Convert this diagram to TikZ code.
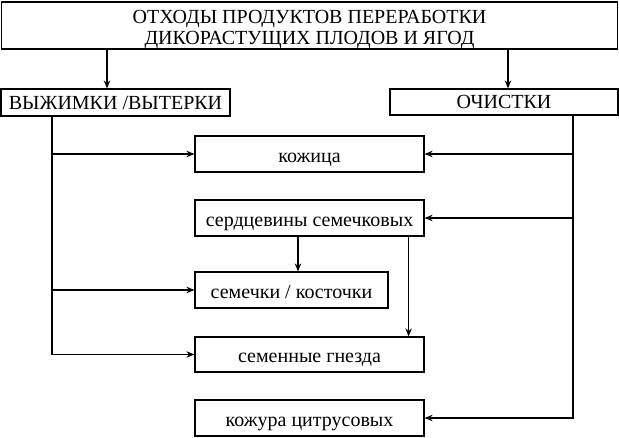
\documentclass[tikz,border=0pt]{standalone}
\usepackage{fontspec}
\setmainfont{Liberation Serif}
\usetikzlibrary{arrows.meta,positioning,calc}

\begin{document}
\begin{tikzpicture}[x=1pt,y=1pt,line width=1.2pt,
		box/.style={draw,inner sep=0pt,minimum height=36pt,text height=16pt,text depth=0pt,font=\fontsize{20}{20.5}\selectfont},
		capbox/.style={box,text height=13pt},
		arr/.style={-{Stealth[length=8pt,width=6.5pt]}}]
	\useasboundingbox (0,0) rectangle (619,-437);
	% верхний уровень
	\node[capbox,align=center,text height=37.6pt,text depth=0pt,minimum width=616pt,minimum height=47pt] (waste) at (309.5,-25.5) {ОТХОДЫ ПРОДУКТОВ ПЕРЕРАБОТКИ\\ДИКОРАСТУЩИХ ПЛОДОВ И ЯГОД};
	\node[capbox,minimum width=229pt,minimum height=27pt] (press) at (115.5,-102.5) {ВЫЖИМКИ /ВЫТЕРКИ};
	\node[capbox,minimum width=228pt,minimum height=26pt] (peel) at (504,-102) {ОЧИСТКИ};
	
	% виды отходов
	\node[box,minimum width=229pt] (skin) at (309.5,-154) {кожица};
	\node[box,minimum width=229pt] (core) at (309.5,-218) {сердцевины семечковых};
	\node[box,minimum width=193pt] (seeds) at (291.5,-290) {семечки / косточки};
	\node[box,minimum width=229pt,minimum height=35pt] (nests) at (309.5,-354.5) {семенные гнезда};
	\node[box,minimum width=229pt] (citrus) at (309.5,-418) {кожура цитрусовых};
	
	\coordinate (lt) at ([xshift=-63.5pt]press.south);
	\coordinate (rt) at ([xshift=69pt]peel.south);
	
	\draw[arr] ([xshift=-8.5pt]press.north |- waste.south) -- ([xshift=-8.5pt]press.north);
	\draw[arr] ([xshift=4pt]peel.north |- waste.south) -- ([xshift=4pt]peel.north);
	
	\draw[arr] (lt) |- (nests.west);
	\draw[arr] (lt |- skin.west) -- (skin.west);
	\draw[arr] (lt |- seeds.west) -- (seeds.west);
	
	\draw[arr] (rt) |- (citrus.east);
	\draw[arr] (rt |- skin.east) -- (skin.east);
	\draw[arr] (rt |- core.east) -- (core.east);
	
	\draw[arr] ([xshift=6.5pt]seeds.north |- core.south) -- ([xshift=6.5pt]seeds.north);
	\draw[arr] ([xshift=-16pt]core.south east) -- ([xshift=-16pt]core.south east |- nests.north);
\end{tikzpicture}
\end{document}
